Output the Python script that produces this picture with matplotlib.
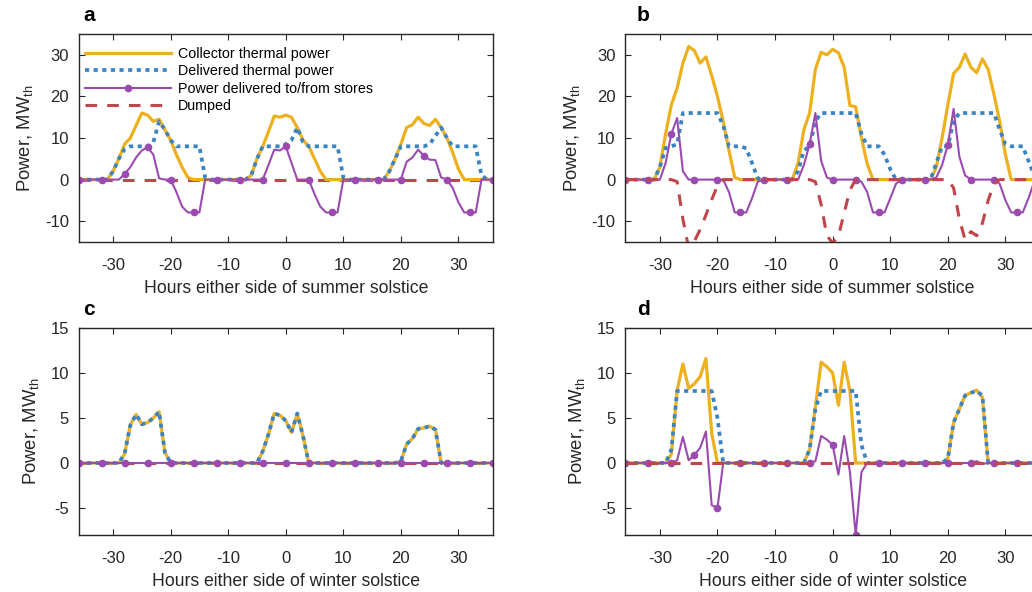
import numpy as np
import matplotlib
matplotlib.use('Agg')
import matplotlib.pyplot as plt

plt.rcParams['font.family'] = ['Liberation Sans', 'DejaVu Sans']
plt.rcParams['mathtext.default'] = 'regular'
plt.rcParams['axes.unicode_minus'] = False

# hours either side of solstice
hours = np.arange(-36, 37)

# ---- panel a: summer, baseline ----
a_col = [0, 0, 0, 0, 0, 0, 2, 5, 8.5, 10, 13, 16, 15.5, 14, 14.5, 12, 9.5, 6, 3, 0.5,
         0, 0, 0, 0, 0, 0, 0, 0, 0,
         0, 1, 5, 8, 11.5, 15.3, 15, 15.5, 15, 12.5, 9.5, 8, 5, 2, 0,
         0, 0, 0, 0, 0, 0, 0, 0, 0,
         0, 2, 5, 8.5, 12.5, 13.2, 15, 13.5, 13, 14.5, 12.5, 10, 6.5, 2.5, 0,
         0, 0, 0, 0, 0]
a_del = [0, 0, 0, 0, 0, 0, 2, 5, 7.3, 8, 8, 8, 8, 9, 14, 12, 9.5, 8, 8, 8, 8, 8, 0.5,
         0, 0, 0, 0, 0, 0,
         0, 1, 5, 8, 8, 8, 8, 8.5, 9.5, 12.5, 9, 8, 8, 8, 8, 8, 8, 0.5,
         0, 0, 0, 0, 0, 0,
         0, 2, 5, 8, 8, 8, 8, 8, 8.5, 10.5, 12.5, 10, 8, 8, 8, 8, 8, 1, 0, 0]
a_sto = [0, 0, 0, 0, 0, 0, 0, 0, 1.3, 3, 5.3, 7, 7.8, 6, 0.3, 0, 0, -3, -6.5, -7.9, -7.9, -7.9, 0,
         0, 0, 0, 0, 0, 0, 0, 0, 0,
         0, 3.5, 7.2, 7, 8, 4, 0, 0, 0, -3.5, -6.5, -7.9, -7.9, -7.9, 0,
         0, 0, 0, 0, 0, 0, 0, 0, 0,
         0, 4.3, 5.3, 7.2, 5.7, 4.8, 4.7, 0.5, 0, -2, -5.5, -7.9, -7.9, -7.9, 0, 0, 0]
a_dump = [0] * 73

# ---- panel b: summer, larger collector ----
b_col = [0, 0, 0, 0, 0, 0, 3, 11, 18, 22, 28, 32, 31, 28, 29.5, 25, 20, 14, 7, 0.5,
         0, 0, 0, 0, 0, 0, 0, 0, 0,
         0, 4, 12, 16, 26.5, 30.6, 30, 31.3, 30.5, 27, 17.8, 17.5, 10, 3.8, 0,
         0, 0, 0, 0, 0, 0, 0, 0, 0,
         0, 3, 10, 18, 25.5, 27, 30.2, 27, 25.7, 29, 26.5, 20.5, 14, 6, 0,
         0, 0, 0, 0, 0]
b_del = [0, 0, 0, 0, 0, 0, 3, 7.6, 8, 8.5, 16, 16, 16, 16, 16, 16, 16, 13, 8, 8, 8, 7.5, 4, 0.3,
         0, 0, 0, 0, 0,
         0, 2, 7, 8, 14, 16, 16, 16, 16, 16, 16, 16, 11, 8, 8, 8, 6, 2.5, 0,
         0, 0, 0, 0, 0,
         0, 4, 8, 8, 14, 16, 16, 16, 16, 16, 16, 16, 12, 8.5, 8, 8, 8, 4.5, 1, 0]
b_sto = [0, 0, 0, 0, 0, 0, 0, 4, 11, 14.8, 2, 0, 0, 0, 0, 0, 0, 0, -3, -7.9, -7.9, -7.9, -4.5, -0.5,
         0, 0, 0, 0, 0, 0, 0,
         3.5, 8.5, 16, 4.5, 0.5, 0, 0, 0, 0, 0, -0.5, -3, -7.9, -7.9, -7.9, -4.5, -1,
         0, 0, 0, 0, 0, 0,
         0.5, 3.5, 8.4, 17, 5.5, 1, 0, 0, 0, 0, 0, -1, -5, -7.9, -7.9, -7.9, -4.5, -0.5, 0]
b_dump = [0, 0, 0, 0, 0, 0, 0, 0, 0, -0.5, -9.5, -16.5, -14.8, -12, -8.5, -4.8, -1.5, 0,
          0, 0, 0, 0, 0, 0, 0, 0, 0, 0, 0, 0, 0, 0, 0,
          -0.5, -6, -13.5, -15.2, -13.6, -8, -2.5, 0,
          0, 0, 0, 0, 0, 0, 0, 0, 0, 0, 0, 0, 0, 0, 0, 0,
          -2, -9.5, -14.5, -12.5, -13.5, -10.5, -5, -1, 0,
          0, 0, 0, 0, 0, 0, 0]

# ---- panel c: winter, baseline (all collected heat is delivered) ----
c_col = [0, 0, 0, 0, 0, 0, 0, 0,
         1, 4.2, 5.4, 4.3, 4.5, 5, 5.7, 1.2, 0,
         0, 0, 0, 0, 0, 0, 0, 0, 0, 0, 0, 0, 0, 0,
         0, 1.3, 3.2, 5.5, 5.3, 4.7, 3.4, 5.5, 3, 0,
         0, 0, 0, 0, 0, 0, 0, 0, 0, 0, 0, 0, 0, 0, 0,
         0.2, 2.1, 2.7, 3.8, 3.9, 4.1, 3.7, 0,
         0, 0, 0, 0, 0, 0, 0, 0, 0]
c_del = c_col
c_sto = [0] * 73
c_dump = [0] * 73

# ---- panel d: winter, larger collector ----
d_col = [0, 0, 0, 0, 0, 0, 0, 0,
         1, 8.1, 11, 8.3, 8.8, 9.6, 11.6, 3.3, 0,
         0, 0, 0, 0, 0, 0, 0, 0, 0, 0, 0, 0, 0, 0,
         0, 1.5, 6.2, 11.2, 10.7, 10, 6.4, 11.2, 8, 0,
         0, 0, 0, 0, 0, 0, 0, 0, 0, 0, 0, 0, 0, 0, 0,
         0.5, 4.5, 6, 7.5, 7.8, 8.1, 7.3, 0,
         0, 0, 0, 0, 0, 0, 0, 0, 0]
d_del = [0, 0, 0, 0, 0, 0, 0, 0,
         1.5, 8, 8, 8, 8, 8, 8, 8, 5, 0,
         0, 0, 0, 0, 0, 0, 0, 0, 0, 0, 0, 0, 0,
         0, 1.5, 6, 8, 8, 8, 8, 8, 8, 8, 2, 0,
         0, 0, 0, 0, 0, 0, 0, 0, 0, 0, 0, 0, 0,
         0.5, 4.5, 6, 7.5, 7.8, 8, 7.5, 0,
         0, 0, 0, 0, 0, 0, 0, 0, 0]
d_sto = [0, 0, 0, 0, 0, 0, 0, 0, 0,
         0.3, 2.9, 0.3, 0.9, 1.7, 3.5, -4.7, -5, 0,
         0, 0, 0, 0, 0, 0, 0, 0, 0, 0, 0, 0, 0, 0, 0,
         0.2, 3, 2.6, 2, -1.3, 3, -1, -8, -1, 0,
         0, 0, 0, 0, 0, 0, 0, 0, 0, 0, 0, 0, 0, 0, 0, 0, 0, 0,
         0.2, -0.1,
         0, 0, 0, 0, 0, 0, 0, 0, 0, 0]
d_dump = [0] * 73

panels = [
    ('a', a_col, a_del, a_sto, a_dump, 'summer', (-15, 35), [-10, 0, 10, 20, 30]),
    ('b', b_col, b_del, b_sto, b_dump, 'summer', (-15, 35), [-10, 0, 10, 20, 30]),
    ('c', c_col, c_del, c_sto, c_dump, 'winter', (-8, 15), [-5, 0, 5, 10, 15]),
    ('d', d_col, d_del, d_sto, d_dump, 'winter', (-8, 15), [-5, 0, 5, 10, 15]),
]

yellow = '#EDB120'
blue = '#3B84C4'
purple = '#9B4AB0'
red = '#C0464B'
dark = '#262626'

W, H = 1032, 592
fig = plt.figure(figsize=(W / 100, H / 100), dpi=100)

# axes boxes in pixels: left, top, right, bottom
boxes = [(78.5, 34, 493, 242), (625.3, 34, 1040, 242),
         (78.5, 328, 493, 535), (625.3, 328, 1040, 535)]
letter_x = [83, 637, 83, 637]
# dumped line sits on top only where it shows in the original
dump_z = [1.5, 2.5, 1.5, 2.5]

for (lab, col, dl, sto, dump, season, ylim, yt), (l, t, r, b), lx, dz in zip(
        panels, boxes, letter_x, dump_z):
    ax = fig.add_axes([l / W, 1 - b / H, (r - l) / W, (b - t) / H])
    h1, = ax.plot(hours, col, color=yellow, lw=2.3, label='Collector thermal power')
    h2, = ax.plot(hours, dl, color=blue, lw=2.7, linestyle=(0, (1.1, 1.2)),
                  dash_capstyle='butt', label='Delivered thermal power')
    h3, = ax.plot(hours, sto, color=purple, lw=1.5, marker='o', ms=4.5,
                  markevery=4, label='Power delivered to/from stores')
    h4, = ax.plot(hours, dump, color=red, lw=2.2, linestyle=(0, (3.8, 3.3)),
                  dash_capstyle='butt', label='Dumped', zorder=dz)

    ax.set_xlim(-36, 36)
    ax.set_ylim(*ylim)
    ax.set_xticks([-30, -20, -10, 0, 10, 20, 30])
    ax.set_yticks(yt)
    ax.tick_params(direction='in', top=True, right=True, length=4, width=0.8,
                   colors=dark, labelsize=12)
    ax.tick_params(axis='x', pad=11.5)
    ax.tick_params(axis='y', pad=7)
    for s in ax.spines.values():
        s.set_color(dark)
        s.set_linewidth(1.0)
    ax.set_xlabel('Hours either side of %s solstice' % season, fontsize=12.7, color=dark,
                  labelpad=5)
    ax.set_ylabel('Power, MW$_{th}$', fontsize=13.3, color=dark, labelpad=7)
    fig.text(lx / W, 1 - (t - 13) / H, lab, fontsize=15, fontweight='bold',
             va='baseline', ha='left')

    if lab == 'a':
        ax.legend(handles=[h1, h2, h3, h4], loc='upper left',
                  bbox_to_anchor=(0.015, 0.937), frameon=False, fontsize=10.3,
                  handlelength=6.0, handletextpad=0.49, labelspacing=0.23,
                  borderpad=0, borderaxespad=0)

fig.savefig('out.png', dpi=100)
